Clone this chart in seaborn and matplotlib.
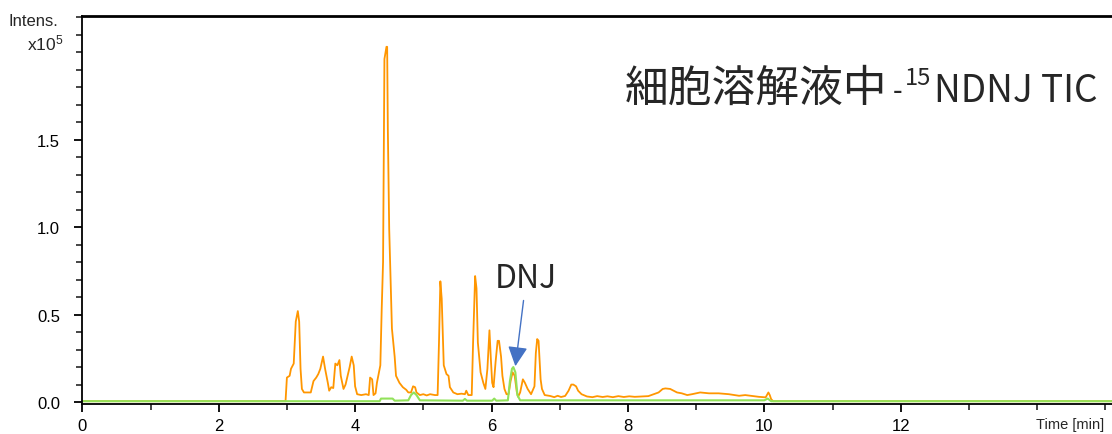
import matplotlib
matplotlib.use("Agg")
import matplotlib.pyplot as plt
import seaborn as sns
import pandas as pd
from matplotlib.ticker import MultipleLocator, FixedLocator

# ---- data ----
tic_time = [0.0, 2.98, 3.00, 3.04, 3.06, 3.10, 3.13, 3.16, 3.18, 3.20, 3.22, 3.25, 3.35, 3.39,
            3.43, 3.46, 3.49, 3.53, 3.56, 3.60, 3.62, 3.65, 3.68, 3.71, 3.74, 3.77, 3.79, 3.83,
            3.86, 3.89, 3.92, 3.95, 3.98, 4.00, 4.03, 4.09, 4.16, 4.20, 4.22, 4.25, 4.27, 4.30,
            4.32, 4.35, 4.37, 4.39, 4.41, 4.42, 4.43, 4.46, 4.47, 4.48, 4.50, 4.54, 4.58, 4.60,
            4.65, 4.70, 4.75, 4.78, 4.82, 4.85, 4.88, 4.90, 4.95, 5.00, 5.05, 5.10, 5.17, 5.21,
            5.23, 5.25, 5.27, 5.30, 5.34, 5.37, 5.39, 5.44, 5.50, 5.56, 5.61, 5.63, 5.66, 5.71,
            5.73, 5.75, 5.76, 5.78, 5.80, 5.84, 5.88, 5.91, 5.94, 5.97, 5.99, 6.01, 6.03, 6.06,
            6.09, 6.11, 6.14, 6.16, 6.19, 6.22, 6.25, 6.28, 6.31, 6.34, 6.37, 6.39, 6.42, 6.46,
            6.49, 6.53, 6.58, 6.63, 6.65, 6.67, 6.69, 6.72, 6.74, 6.78, 6.86, 6.92, 6.97, 7.02,
            7.08, 7.13, 7.17, 7.20, 7.24, 7.27, 7.32, 7.40, 7.48, 7.55, 7.63, 7.70, 7.78, 7.86,
            7.94, 8.02, 8.10, 8.21, 8.30, 8.38, 8.45, 8.51, 8.55, 8.62, 8.67, 8.72, 8.79, 8.87,
            8.94, 9.06, 9.19, 9.33, 9.48, 9.63, 9.72, 9.82, 9.92, 10.02, 10.06, 10.08, 10.10,
            10.13, 15.2]
tic_int = [0.005, 0.005, 0.14, 0.15, 0.19, 0.22, 0.46, 0.52, 0.46, 0.19, 0.075, 0.055, 0.055, 0.12,
           0.14, 0.16, 0.19, 0.26, 0.19, 0.11, 0.065, 0.085, 0.08, 0.22, 0.21, 0.24, 0.15, 0.075,
           0.10, 0.15, 0.20, 0.26, 0.21, 0.09, 0.045, 0.04, 0.045, 0.04, 0.14, 0.13, 0.04, 0.05,
           0.11, 0.17, 0.21, 0.53, 0.80, 1.37, 1.96, 2.03, 2.03, 1.56, 0.99, 0.42, 0.26, 0.15,
           0.11, 0.085, 0.07, 0.055, 0.055, 0.09, 0.085, 0.055, 0.04, 0.045, 0.038, 0.045, 0.04, 0.04,
           0.34, 0.69, 0.59, 0.21, 0.16, 0.15, 0.085, 0.055, 0.045, 0.048, 0.045, 0.065, 0.04, 0.04,
           0.34, 0.60, 0.72, 0.65, 0.34, 0.17, 0.11, 0.075, 0.19, 0.41, 0.25, 0.11, 0.085, 0.23,
           0.35, 0.35, 0.26, 0.15, 0.075, 0.045, 0.045, 0.12, 0.17, 0.15, 0.06, 0.03, 0.055, 0.13,
           0.11, 0.075, 0.045, 0.09, 0.28, 0.36, 0.35, 0.13, 0.075, 0.04, 0.035, 0.028, 0.036, 0.029,
           0.035, 0.065, 0.10, 0.10, 0.09, 0.065, 0.045, 0.032, 0.028, 0.034, 0.029, 0.033, 0.028, 0.034,
           0.029, 0.033, 0.03, 0.032, 0.034, 0.045, 0.055, 0.075, 0.078, 0.075, 0.065, 0.055, 0.05, 0.04,
           0.045, 0.055, 0.05, 0.05, 0.045, 0.036, 0.04, 0.035, 0.03, 0.027, 0.055, 0.04, 0.017,
           0.005, 0.005]

dnj_time = [0.0, 4.36, 4.38, 4.55, 4.58, 4.78, 4.82, 4.86, 4.90, 4.95, 5.58, 5.61, 5.64,
            6.01, 6.04, 6.07, 6.24, 6.27, 6.30, 6.32, 6.35, 6.38, 6.42, 10.00, 10.05, 10.10, 15.2]
dnj_int = [0.005, 0.005, 0.02, 0.02, 0.008, 0.01, 0.04, 0.055, 0.04, 0.01, 0.008, 0.018, 0.008,
           0.008, 0.02, 0.008, 0.01, 0.12, 0.19, 0.20, 0.17, 0.04, 0.01, 0.01, 0.02, 0.005, 0.005]

x_ticks = [0, 2, 4, 6, 8, 10, 12]
y_ticks = [0.0, 0.5, 1.0, 1.5]
y_tick_labels = ["0.0", "0.5", "1.0", "1.5"]

sns.set_style("ticks")
plt.rcParams["font.family"] = ["Liberation Sans", "DejaVu Sans"]
plt.rcParams["mathtext.default"] = "regular"

CJK = ["Noto Sans CJK JP"]

W, H = 1112, 435
fig = plt.figure(figsize=(W / 100, H / 100), dpi=100)
ax = fig.add_axes([82.3 / W, 1 - 405 / H, 1 - 82.3 / W, 388 / H])

df_tic = pd.DataFrame({"t": tic_time, "i": tic_int})
df_dnj = pd.DataFrame({"t": dnj_time, "i": dnj_int})
sns.lineplot(data=df_tic, x="t", y="i", ax=ax, color="#FF9600", lw=1.3, sort=False,
             estimator=None)
sns.lineplot(data=df_dnj, x="t", y="i", ax=ax, color="#92E25A", lw=1.5, sort=False,
             estimator=None)

ax.set_xlim(0, (W - 82.3) / 68.2)
ax.set_ylim(-0.011, 2.206)
ax.set_xlabel("")
ax.set_ylabel("")
ax.xaxis.set_major_locator(FixedLocator(x_ticks))
ax.xaxis.set_minor_locator(MultipleLocator(1))
ax.yaxis.set_major_locator(FixedLocator(y_ticks))
ax.set_yticklabels(y_tick_labels)
ax.yaxis.set_minor_locator(MultipleLocator(0.1))
ax.tick_params(which="major", length=6, width=1.3, direction="out", labelsize=12,
               colors="black")
ax.tick_params(axis="y", which="major", pad=10)
ax.tick_params(axis="x", which="major", pad=4)
ax.tick_params(which="minor", length=4, width=1.2, direction="out")
for s in ["left", "bottom", "top"]:
    ax.spines[s].set_visible(True)
    ax.spines[s].set_color("black")
    ax.spines[s].set_linewidth(1.3)
ax.spines["top"].set_linewidth(2)
ax.spines["right"].set_visible(False)

# axis captions
fig.text(8 / W, 1 - 26 / H, "Intens.", fontsize=12, ha="left", va="baseline")
fig.text(63 / W, 1 - 50 / H, "x10$^{5}$", fontsize=12.5, ha="right", va="baseline")
fig.text(1104 / W, 1 - 429 / H, "Time [min]", fontsize=10.5, ha="right", va="baseline")

# DNJ annotation
ax.annotate("DNJ", xy=(6.35, 0.205), xytext=(6.51, 0.655), textcoords="data",
            ha="center", va="baseline", fontsize=23, family=CJK,
            arrowprops=dict(arrowstyle="-|>", color="#4472C4", lw=1.0, mutation_scale=30,
                            shrinkA=2, shrinkB=0))

# title built from pieces
fig.canvas.draw()
r = fig.canvas.get_renderer()
base = 1 - 102 / H
x = 625 / W
t1 = fig.text(x, base, "細胞溶解液中", fontsize=31.5, family=CJK, va="baseline", ha="left")
x = t1.get_window_extent(r).x1 / W + 5 / W
t2 = fig.text(x, 1 - 100 / H, "-", fontsize=20, family=CJK, va="baseline", ha="left")
x = t2.get_window_extent(r).x1 / W + 3 / W
t3 = fig.text(x, 1 - 85 / H, "15", fontsize=17, family=CJK, va="baseline", ha="left")
x = t3.get_window_extent(r).x1 / W + 3 / W
t4 = fig.text(x, base, "NDNJ TIC", fontsize=26.7, family=CJK, va="baseline", ha="left")

fig.savefig("out.png", dpi=100)
